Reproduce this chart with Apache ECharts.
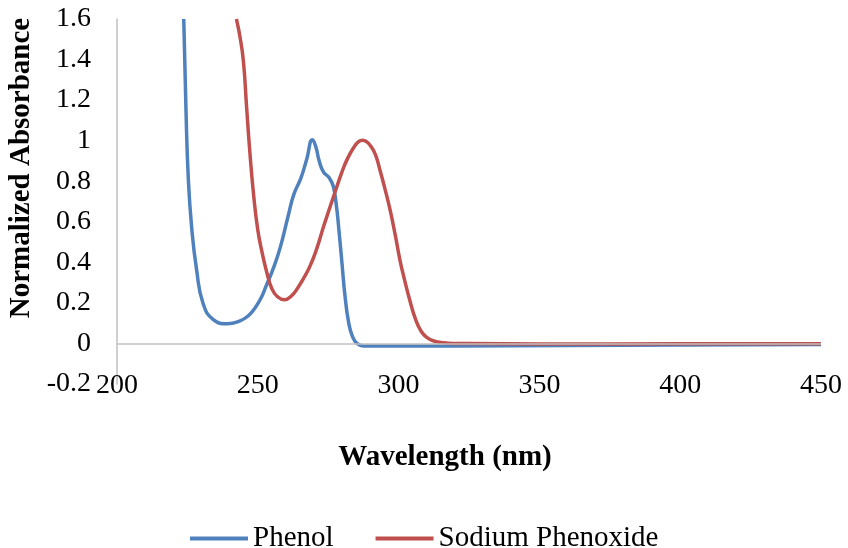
<!DOCTYPE html>
<html>
<head>
<meta charset="utf-8">
<script src="https://cdn.jsdelivr.net/npm/echarts@6/dist/echarts.min.js"></script>
<style>
  html,body{margin:0;padding:0;background:#fff}
  #chart{width:848px;height:548px}
</style>
</head>
<body>
<div id="chart"></div>
<script>
/* UV-vis: fenol vs fenóxido de sodio */
const phenolWl  = [223.7,224.5,225.3,226.5,228.3,230.6,234.2,239.2,243.5,246.5,249,251,253,255.5,258,260.8,262.8,265.3,267.4,269.4,270.6,271.8,273.3,275.3,276.8,277.9,278.8,279.8,281,282.3,283.6,285.2,287.5,295,320,360,400,450];
const phenolAbs = [1.60,1.15,0.82,0.574,0.36,0.196,0.118,0.097,0.11,0.135,0.175,0.22,0.285,0.37,0.475,0.63,0.735,0.815,0.91,1.005,0.97,0.9,0.846,0.818,0.775,0.68,0.56,0.41,0.23,0.10,0.035,0.0,-0.012,-0.013,-0.012,-0.01,-0.008,-0.005];
const phenoxWl  = [242.4,243.7,244.9,246.0,247.2,248.6,250,251.5,253.2,255,257,259.5,262,264,266,268.5,271,273.3,275.7,278,280,281.6,284,285.8,287.2,288.6,290,291.8,293.4,295.2,297,298.8,300.5,302,304,306,308,310,312.5,316,320,350,400,450];
const phenoxAbs = [1.60,1.51,1.39,1.17,0.94,0.72,0.56,0.45,0.35,0.27,0.23,0.215,0.235,0.27,0.315,0.38,0.47,0.574,0.675,0.77,0.85,0.904,0.965,0.995,1.002,0.995,0.975,0.93,0.854,0.76,0.657,0.535,0.41,0.32,0.212,0.12,0.06,0.03,0.012,0.003,0,-0.003,-0.002,-0.001];
const SERIES = ["Phenol","Sodium Phenoxide"];
const COLORS = ["#4F81BD","#C0504D"];

const FONT = "'Liberation Serif','Times New Roman',serif";
const zip = (a,b) => a.map((x,i)=>[x,b[i]]);

const chart = echarts.init(document.getElementById("chart"));
chart.setOption({
  animation:false,
  textStyle:{fontFamily:FONT,color:"#000"},
  grid:{left:117,right:27,top:19,bottom:164},
  legend:{
    data:SERIES,left:185,top:519,icon:"rect",itemWidth:58,itemHeight:4,itemGap:42,
    textStyle:{fontFamily:FONT,fontSize:29,color:"#000"}
  },
  xAxis:{
    type:"value",min:200,max:450,interval:50,
    axisLine:{show:false},axisTick:{show:false},splitLine:{show:false},
    axisLabel:{fontFamily:FONT,fontSize:28,color:"#000",margin:-12}
  },
  yAxis:{
    type:"value",min:-0.2,max:1.6,interval:0.2,
    axisLine:{show:true,lineStyle:{color:"#c0c0c0",width:1.5}},
    axisTick:{show:false},splitLine:{show:false},
    axisLabel:{fontFamily:FONT,fontSize:28,color:"#000",margin:26}
  },
  graphic:[
    {type:"text",x:22,y:168,rotation:Math.PI/2,
     style:{text:"Normalized Absorbance",font:"bold 29px "+FONT,fill:"#000",align:"center",verticalAlign:"middle"}},
    {type:"text",x:445,y:458,
     style:{text:"Wavelength (nm)",font:"bold 29px "+FONT,fill:"#000",align:"center",verticalAlign:"middle"}}
  ],
  series:[
    {name:SERIES[0],type:"line",data:zip(phenolWl,phenolAbs),smooth:0.5,symbol:"none",
     lineStyle:{width:3.5,color:COLORS[0]},itemStyle:{color:COLORS[0]},z:3,
     markLine:{silent:true,symbol:"none",label:{show:false},
       lineStyle:{color:"#c0c0c0",width:1.5,type:"solid"},data:[{yAxis:0}]}},
    {name:SERIES[1],type:"line",data:zip(phenoxWl,phenoxAbs),smooth:0.5,symbol:"none",
     lineStyle:{width:3.5,color:COLORS[1]},itemStyle:{color:COLORS[1]},z:4}
  ]
});
</script>
</body>
</html>
